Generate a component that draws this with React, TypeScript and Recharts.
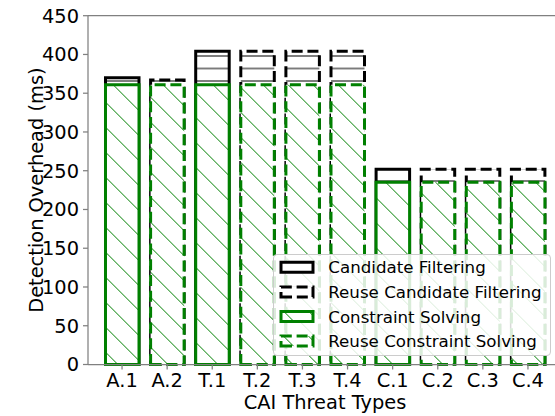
import React from 'react';
import { BarChart, Bar, XAxis, YAxis, ReferenceLine, Legend, Label } from 'recharts';

const threatTypes = ['A.1', 'A.2', 'T.1', 'T.2', 'T.3', 'T.4', 'C.1', 'C.2', 'C.3', 'C.4'];
// full bar height: candidate filtering drawn behind, constraint solving over it
const filteringTotal = [370, 367, 404, 404, 404, 404, 252, 252, 252, 252];
const constraintSolving = [361, 361, 361, 361, 361, 361, 235, 235, 235, 235];
// dashed outline = "Reuse" variant
const reused = [false, true, false, true, true, true, false, true, true, true];
const yTicks = [0, 50, 100, 150, 200, 250, 300, 350, 400, 450];

const legendItems = [
    { label: 'Candidate Filtering', color: '#000000', dashed: false, pattern: 'hatch-filter' },
    { label: 'Reuse Candidate Filtering', color: '#000000', dashed: true, pattern: 'hatch-filter' },
    { label: 'Constraint Solving', color: '#008000', dashed: false, pattern: 'hatch-solve' },
    { label: 'Reuse Constraint Solving', color: '#008000', dashed: true, pattern: 'hatch-solve' },
];

const data = threatTypes.map((name, i) => ({
    name,
    filtering: filteringTotal[i],
    solving: constraintSolving[i],
}));

const FONT = '"DejaVu Sans", sans-serif';
const AXIS = '#808080';
const GREEN = '#008000';
const DASH = '11 4.8';

const rectPath = (x: number, y: number, w: number, h: number) =>
    `M${x},${y + h}L${x + w},${y + h}L${x + w},${y}L${x},${y}Z`;

const HatchRect = (props: any) => {
    const { x, y, width, height, index, color, pattern } = props;
    if (!height) return null;
    return (
        <path
            d={rectPath(x, y, width, height)}
            fill={`url(#${pattern})`}
            stroke={color}
            strokeWidth={3}
            strokeDasharray={reused[index] ? DASH : undefined}
            strokeLinejoin="miter"
        />
    );
};

const HatchDefs = () => (
    <defs>
        <pattern id="hatch-filter" patternUnits="userSpaceOnUse" x={0} y={6} width={10} height={12.5}>
            <rect width={10} height={12.5} fill="#ffffff" />
            <line x1={-1} y1={0} x2={11} y2={0} stroke="#000000" strokeWidth={1} />
            <line x1={-1} y1={12.5} x2={11} y2={12.5} stroke="#000000" strokeWidth={1} />
        </pattern>
        <pattern id="hatch-solve" patternUnits="userSpaceOnUse" x={0} y={21.6} width={25} height={25}>
            <rect width={25} height={25} fill="#ffffff" />
            <line x1={-2} y1={-2} x2={27} y2={27} stroke={GREEN} strokeWidth={1} />
            <line x1={-27} y1={-2} x2={2} y2={27} stroke={GREEN} strokeWidth={1} />
            <line x1={23} y1={-2} x2={52} y2={27} stroke={GREEN} strokeWidth={1} />
        </pattern>
    </defs>
);

const renderLegend = () => (
    <div
        style={{
            width: 278,
            height: 102,
            boxSizing: 'border-box',
            border: '1px solid #cccccc',
            borderRadius: 4,
            background: 'rgba(255,255,255,0.85)',
        }}
    >
        <svg width={276} height={100} style={{ display: 'block' }}>
            {legendItems.map((item, i) => {
                const cy = 12.3 + i * 24.6;
                return (
                    <g key={item.label}>
                        <path
                            d={rectPath(7, cy - 5, 32, 10)}
                            fill={`url(#${item.pattern})`}
                            stroke={item.color}
                            strokeWidth={3}
                            strokeDasharray={item.dashed ? DASH : undefined}
                        />
                        <text x={54.3} y={cy + 6} fontFamily={FONT} fontSize={16.67} fill="#000000">
                            {item.label}
                        </text>
                    </g>
                );
            })}
        </svg>
    </div>
);

const App: React.FC = () => {
    return (
        <div style={{ position: 'absolute', left: 0, top: 0, width: 555, height: 416, overflow: 'hidden', background: '#fff' }}>
            <BarChart
                width={562}
                height={416}
                data={data}
                margin={{ top: 15.7, right: 0, bottom: 0, left: 0 }}
                barGap={-33.5}
                barSize={33.5}
            >
                <HatchDefs />
                <XAxis
                    dataKey="name"
                    height={51.5}
                    padding={{ left: 11.5, right: 11.5 }}
                    stroke={AXIS}
                    strokeWidth={1.25}
                    tickSize={5}
                    tickMargin={4}
                    tick={{ fill: '#000000', fontFamily: FONT, fontSize: 19.4 }}
                    interval={0}
                >
                    <Label
                        content={(p: any) => (
                            <text
                                x={p.viewBox.x + p.viewBox.width / 2}
                                y={p.viewBox.y + 44.5}
                                textAnchor="middle"
                                fontFamily={FONT}
                                fontSize={19.4}
                                fill="#000000"
                            >
                                CAI Threat Types
                            </text>
                        )}
                    />
                </XAxis>
                <YAxis
                    width={88}
                    domain={[0, 450]}
                    ticks={yTicks}
                    interval={0}
                    stroke={AXIS}
                    strokeWidth={1.25}
                    tickSize={5}
                    tickMargin={4}
                    tick={{ fill: '#000000', fontFamily: FONT, fontSize: 19.4 }}
                >
                    <Label
                        content={(p: any) => {
                            const cx = p.viewBox.x + 43;
                            const cy = p.viewBox.y + p.viewBox.height / 2;
                            return (
                                <text
                                    x={cx}
                                    y={cy}
                                    transform={`rotate(-90 ${cx} ${cy})`}
                                    textAnchor="middle"
                                    fontFamily={FONT}
                                    fontSize={19.4}
                                    fill="#000000"
                                >
                                    Detection Overhead (ms)
                                </text>
                            );
                        }}
                    />
                </YAxis>
                <ReferenceLine y={450} stroke={AXIS} strokeWidth={1.25} />
                <Bar
                    dataKey="filtering"
                    name="Candidate Filtering"
                    isAnimationActive={false}
                    shape={(p: any) => <HatchRect {...p} color="#000000" pattern="hatch-filter" />}
                />
                <Bar
                    dataKey="solving"
                    name="Constraint Solving"
                    isAnimationActive={false}
                    shape={(p: any) => <HatchRect {...p} color={GREEN} pattern="hatch-solve" />}
                />
                <Legend
                    layout="vertical"
                    align="center"
                    verticalAlign="middle"
                    wrapperStyle={{ left: 273, top: 254, width: 278, height: 102 }}
                    content={renderLegend}
                />
            </BarChart>
        </div>
    );
};

export default App;
